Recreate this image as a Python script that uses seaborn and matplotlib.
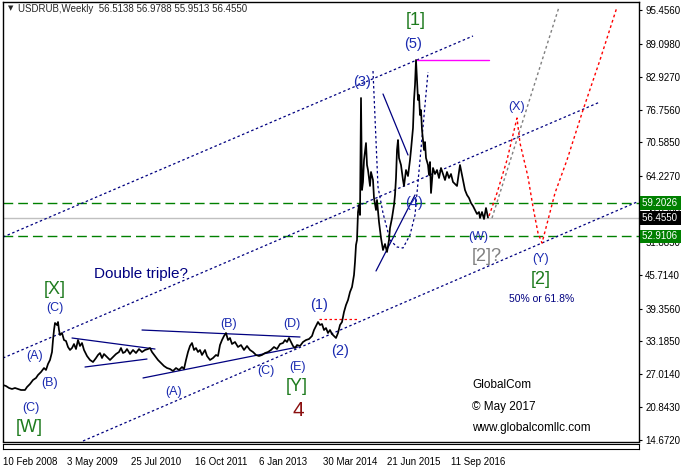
import pandas as pd
import matplotlib
matplotlib.use('Agg')
import matplotlib.pyplot as plt
import seaborn as sns

# weekly USDRUB closes (week 0 = 10 Feb 2008)
weeks = [0, 3, 6, 9, 12, 15, 18, 22, 24, 27, 30, 33, 35, 38, 41, 43, 45, 47, 49, 50,
         51, 52, 54, 55, 56, 57, 59, 61, 63, 65, 67, 69, 71, 73, 75, 77, 79, 81, 84, 87,
         90, 93, 95, 97, 99, 101, 104, 107, 110, 113, 116, 118, 120, 122, 124, 127, 130, 133, 136, 139,
         142, 145, 147, 149, 152, 155, 158, 161, 164, 167, 170, 173, 176, 179, 181, 183, 185, 187, 189, 191,
         193, 195, 197, 199, 202, 204, 207, 210, 213, 215, 217, 219, 221, 223, 225, 227, 229, 232, 235, 238,
         241, 244, 247, 250, 253, 256, 259, 262, 265, 268, 271, 274, 277, 280, 282, 284, 286, 288, 290, 292,
         294, 297, 300, 303, 306, 309, 311, 313, 315, 317, 319, 321, 323, 325, 327, 329, 331, 333, 335, 337,
         339, 341, 343, 345, 347, 349, 351, 352, 353, 354, 355, 356, 357, 358, 359, 360, 361, 363, 364, 365,
         367, 368, 370, 371, 373, 374, 376, 378, 380, 382, 384, 386, 387, 389, 391, 392, 393, 394, 395, 396,
         398, 400, 401, 403, 405, 407, 408, 410, 411, 412, 413, 414, 415, 416, 417, 418, 419, 421, 422, 423,
         425, 426, 427, 428, 429, 430, 432, 434, 436, 438, 440, 442, 444, 446, 448, 450, 452, 454, 456, 457,
         458, 460, 462, 464, 466, 468, 470, 472, 474, 476, 477, 479, 481, 483, 485]
prices = [25.01, 24.82, 24.45, 24.26, 24.45, 24.26, 24.07, 24.07, 24.63, 25.20, 25.95, 26.33, 26.89, 27.45, 28.20, 27.83, 28.96, 29.71, 31.21, 33.46,
          35.34, 36.66, 36.28, 36.85, 35.34, 34.40, 34.78, 33.46, 33.28, 32.15, 31.59, 31.96, 32.71, 31.77, 33.46, 32.34, 32.90, 31.59, 30.46, 29.71,
          29.33, 30.08, 30.65, 31.02, 30.08, 30.83, 30.27, 29.71, 30.27, 30.83, 31.21, 31.96, 31.02, 31.21, 31.77, 30.83, 31.59, 31.02, 31.77, 31.21,
          31.59, 31.77, 31.96, 31.21, 30.46, 29.71, 29.14, 28.58, 28.20, 28.02, 27.64, 28.20, 27.83, 28.39, 28.02, 29.71, 31.21, 32.34, 32.90, 31.59,
          31.96, 31.21, 31.59, 30.65, 31.59, 30.46, 29.71, 30.08, 30.65, 30.46, 32.52, 33.46, 34.22, 34.78, 33.46, 33.84, 32.71, 33.09, 32.15, 32.52,
          31.59, 32.34, 31.59, 31.21, 30.65, 30.46, 30.65, 31.02, 31.21, 31.59, 32.15, 31.77, 32.71, 32.90, 33.46, 33.09, 33.84, 33.09, 32.34, 31.96,
          32.52, 32.34, 33.09, 33.46, 33.65, 34.22, 35.34, 36.10, 36.85, 36.28, 36.47, 35.34, 35.72, 34.78, 35.34, 34.59, 34.22, 33.84, 34.78, 36.28,
          36.85, 38.73, 40.04, 40.98, 42.48, 43.42, 45.68, 48.12, 51.31, 52.25, 57.51, 58.83, 56.95, 78.93, 61.64, 63.15, 67.28, 70.47, 66.34, 65.40,
          62.40, 65.03, 63.52, 60.14, 57.89, 59.77, 55.63, 52.63, 50.37, 51.50, 50.00, 52.25, 54.51, 56.38, 58.83, 60.71, 63.90, 69.16, 71.04, 67.66,
          66.34, 63.52, 62.40, 65.40, 64.27, 67.28, 69.16, 73.29, 78.55, 81.37, 86.07, 82.31, 78.55, 79.49, 75.73, 76.67, 72.92, 69.16, 70.66, 67.66,
          66.34, 64.46, 66.91, 61.08, 63.52, 65.78, 64.65, 65.40, 63.90, 65.78, 64.65, 63.52, 65.03, 63.90, 64.65, 63.15, 62.77, 62.40, 65.03, 66.34,
          65.40, 63.52, 61.64, 60.71, 60.14, 59.20, 58.64, 57.89, 57.14, 57.51, 56.38, 57.51, 56.20, 58.26, 56.46]

date_ticks = [0, 64, 128, 192, 256, 320, 384, 448]
date_labels = ['10 Feb 2008', '3 May 2009', '25 Jul 2010', '16 Oct 2011',
               '6 Jan 2013', '30 Mar 2014', '21 Jun 2015', '11 Sep 2016']
price_ticks = [95.456, 89.098, 82.927, 76.756, 70.585, 64.227, 58.056,
               51.885, 45.714, 39.356, 33.185, 27.014, 20.843, 14.672]

level_hi = 59.2026
level_lo = 52.9106
last_price = 56.4550

# channel lines (week, price)
upper_x, upper_y = [0, 470], [52.81, 90.58]
middle_x, middle_y = [0, 597], [30.08, 78.18]
lower_x, lower_y = [80, 634], [14.49, 59.39]
# triangles
tri1_top_x, tri1_top_y = [69, 152], [33.84, 31.77]
tri1_bot_x, tri1_bot_y = [82, 144], [28.39, 29.89]
tri2_top_x, tri2_top_y = [139, 297], [35.34, 34.03]
tri2_bot_x, tri2_bot_y = [140, 295], [26.33, 32.15]
# marks around wave (1) and the top
w1_x, w1_y = [316, 355], [37.41, 37.41]
top_x, top_y = [413, 486], [86.07, 86.07]
cone_x = [370, 375, 380, 387, 394, 400, 407, 412, 425]
cone_y = [84.00, 62.21, 57.32, 52.25, 50.94, 50.75, 53.19, 56.95, 83.81]
w4a_x, w4a_y = [380, 405], [79.68, 68.22]
w4b_x, w4b_y = [373, 412], [46.43, 60.71]
# projections
gray_x, gray_y = [489, 556], [56.38, 96.02]
proj_x = [486, 494, 504, 514, 517, 525, 530, 535, 539, 545, 552, 564, 580, 597, 614]
proj_y = [56.76, 61.08, 67.28, 75.17, 70.47, 64.09, 58.45, 53.57, 51.69, 56.01,
          61.08, 67.28, 76.67, 86.07, 96.02]

sns.set_theme(style='white')
plt.rcParams['font.family'] = ['Liberation Sans', 'DejaVu Sans']

fig = plt.figure(figsize=(6.82, 4.69), dpi=100)
ax = fig.add_axes([3 / 682, 27.5 / 469, 636 / 682, 439.5 / 469])
bar = fig.add_axes([3 / 682, 20.5 / 469, 636 / 682, 4.5 / 469])

navy = '#000080'
lab = '#1a2ab0'
grn = '#1e7b1e'
dot = (0, (2, 2))

ax.axhline(level_hi, color='#008000', lw=1, ls=(0, (7, 3.6)), zorder=1)
ax.axhline(level_lo, color='#008000', lw=1, ls=(0, (7, 3.6)), zorder=1)
ax.axhline(last_price, color='#c0c0c0', lw=1, zorder=1)

for xs, ys in [(upper_x, upper_y), (middle_x, middle_y), (lower_x, lower_y)]:
    ax.plot(xs, ys, color=navy, lw=0.9, ls=dot)
ax.plot(cone_x, cone_y, color=navy, lw=0.9, ls=dot)
for xs, ys in [(tri1_top_x, tri1_top_y), (tri1_bot_x, tri1_bot_y),
               (tri2_top_x, tri2_top_y), (tri2_bot_x, tri2_bot_y),
               (w4a_x, w4a_y), (w4b_x, w4b_y)]:
    ax.plot(xs, ys, color=navy, lw=0.9)
ax.plot(w1_x, w1_y, color='red', lw=0.9, ls=dot)
ax.plot(top_x, top_y, color='#ff00ff', lw=1)
ax.plot(gray_x, gray_y, color='#808080', lw=1, ls=dot)
ax.plot(proj_x, proj_y, color='red', lw=1, ls=dot)

df = pd.DataFrame({'week': weeks, 'price': prices})
sns.lineplot(data=df, x='week', y='price', color='black', lw=1.25, ax=ax, zorder=3)

labels = [
    ('[1]', 413, 93.58, grn, 13), ('(5)', 410, 89.07, lab, 10.5),
    ('(3)', 359, 81.93, lab, 10.5), ('(4)', 411, 59.20, lab, 10.5),
    ('(X)', 514, 77.24, lab, 9), ('(W)', 475, 52.81, lab, 9),
    ('[2]?', 484, 49.06, '#808080', 13), ('(Y)', 538, 48.68, lab, 9),
    ('[2]', 538, 44.74, grn, 13), ('50% or 61.8%', 539, 41.17, navy, 7.5),
    ('Double triple?', 138, 45.86, navy, 11), ('[X]', 52, 42.86, grn, 13),
    ('(C)', 52, 39.48, lab, 9), ('(A)', 32, 30.46, lab, 9),
    ('(B)', 47, 25.39, lab, 9), ('(C)', 28, 20.69, lab, 9),
    ('[W]', 26, 17.12, grn, 13), ('(B)', 226, 36.47, lab, 9),
    ('(D)', 289, 36.47, lab, 9), ('(1)', 316, 40.04, lab, 10.5),
    ('(A)', 171, 23.70, lab, 9), ('(C)', 263, 27.64, lab, 9),
    ('(E)', 295, 28.39, lab, 9), ('[Y]', 294, 24.82, grn, 13),
    ('4', 295, 20.31, '#8b1010', 15), ('(2)', 337, 31.40, lab, 10.5),
]
for txt, x, y, c, s in labels:
    ax.text(x, y, txt, color=c, fontsize=s, ha='center', va='center', zorder=5)

for txt, y in [('GlobalCom', 25.01), ('\u00a9 May 2017', 20.88), ('www.globalcomllc.com', 16.93)]:
    ax.text(469, y, txt, color='black', fontsize=8.5, ha='left', va='center')

ax.set_xlim(0, 636)
ax.set_ylim(14.396, 96.964)
ax.set_xlabel('')
ax.set_ylabel('')
ax.set_xticks([])
ax.yaxis.tick_right()
ax.set_yticks(price_ticks)
ax.set_yticklabels([f'{v:.4f}' for v in price_ticks])
ax.tick_params(axis='y', direction='out', length=2.5, width=0.8, pad=2,
               labelsize=7, colors='black')
for sp in ax.spines.values():
    sp.set_color('black')
    sp.set_linewidth(1)

# price marker boxes on the right scale (they cover the neighbouring tick labels, as in the terminal)
for val, bg in [(level_hi, '#008000'), (last_price, 'black'), (level_lo, '#008000')]:
    ax.text(1.004, val, f'{val:.4f} ', transform=ax.get_yaxis_transform(),
            ha='left', va='center', color='white', fontsize=7, zorder=6,
            clip_on=False,
            bbox=dict(boxstyle='square,pad=0.2', fc=bg, ec='none'))

ax.text(0.008, 0.985, '\u25bc', transform=ax.transAxes, fontsize=5,
        ha='left', va='center', family=['DejaVu Sans'])
ax.text(0.024, 0.985, 'USDRUB,Weekly  56.5138 56.9788 55.9513 56.4550',
        transform=ax.transAxes, fontsize=7, ha='left', va='center')

bar.set_xlim(0, 636)
bar.set_yticks([])
bar.set_xticks(date_ticks)
bar.set_xticklabels(date_labels, ha='left')
bar.tick_params(axis='x', direction='out', length=3, width=0.8, pad=3,
                labelsize=7, colors='black')
for sp in bar.spines.values():
    sp.set_color('black')
    sp.set_linewidth(0.8)

fig.savefig('out.png', dpi=100)
